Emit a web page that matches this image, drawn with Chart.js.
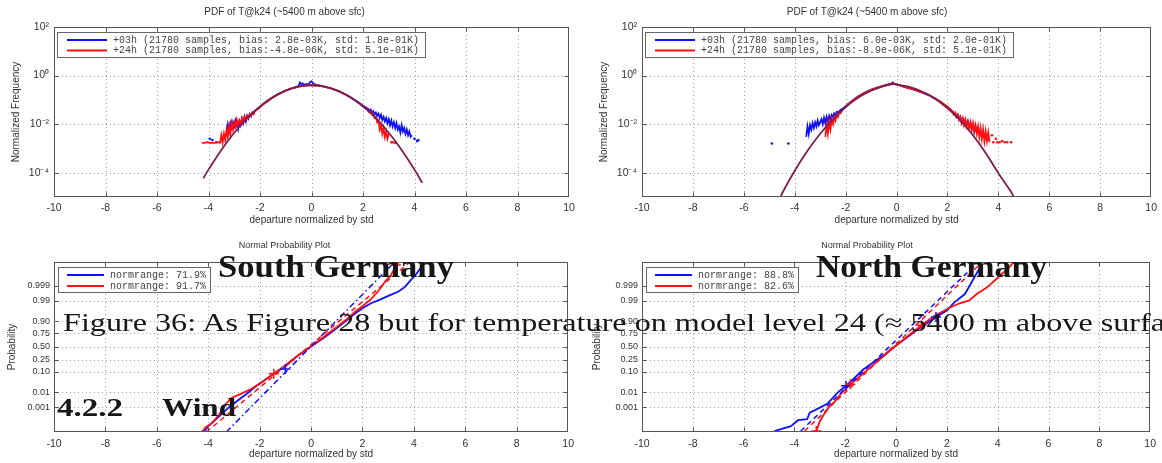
<!DOCTYPE html>
<html><head><meta charset="utf-8">
<script src="https://cdn.jsdelivr.net/npm/chart.js@4.4.0/dist/chart.umd.min.js"></script>
<style>
html,body{margin:0;padding:0;background:#fff;}
#page{position:relative;width:1162px;height:463px;overflow:hidden;background:#fff;}
canvas{position:absolute;}
#overlay{position:absolute;left:0;top:0;pointer-events:none;}
</style></head><body>
<div id="page">
<canvas id="c1" width="580" height="230" style="left:0;top:0;width:580px;height:230px"></canvas>
<canvas id="c2" width="582" height="230" style="left:580px;top:0;width:582px;height:230px"></canvas>
<canvas id="c3" width="580" height="233" style="left:0;top:230px;width:580px;height:233px"></canvas>
<canvas id="c4" width="582" height="233" style="left:580px;top:230px;width:582px;height:233px"></canvas>
<svg id="overlay" width="1162" height="463" xmlns="http://www.w3.org/2000/svg">
<g font-family="'Liberation Serif','DejaVu Serif',serif" fill="#161616">
<text x="218" y="277" font-size="31" font-weight="bold" textLength="236" lengthAdjust="spacingAndGlyphs">South Germany</text>
<text x="816" y="277" font-size="31" font-weight="bold" textLength="231" lengthAdjust="spacingAndGlyphs">North Germany</text>
<text x="63" y="331" font-size="25" textLength="1102" lengthAdjust="spacingAndGlyphs">Figure 36: As Figure 28 but for temperature on model level 24 (≈ 5400 m above surfa</text>
<text x="57" y="416" font-size="25" font-weight="bold" textLength="66" lengthAdjust="spacingAndGlyphs">4.2.2</text>
<text x="162" y="416" font-size="25" font-weight="bold" textLength="74" lengthAdjust="spacingAndGlyphs">Wind</text>
</g></svg>
</div>
<script>
// ---------- tick values / labels ----------
const xTickValues = [-10,-8,-6,-4,-2,0,2,4,6,8,10];
const xGridValues = [-8,-6,-4,-2,0,2,4,6,8];
const pdfTickValues = [1e2,1e0,1e-2,1e-4];
const pdfTickLabels = ['10\u00B2','10\u2070','10\u207B\u00B2','10\u207B\u2074'];
const pdfGridValues = [1e0,1e-2,1e-4];
const probTickValues = [3.09,2.326,1.2816,0.674,0,-0.674,-1.2816,-2.326,-3.09];
const probTickLabels = ['0.999','0.99','0.90','0.75','0.50','0.25','0.10','0.01','0.001'];
const pdfRange = [1e-5, 1e2];
const probRange = [-4.35, 4.3];

// ---------- texts ----------
const pdfTitle = 'PDF of T@k24 (~5400 m above sfc)';
const probTitle = 'Normal Probability Plot';
const xTitle = 'departure normalized by std';
const southPdfLabels = ['+03h (21780 samples, bias: 2.8e-03K, std: 1.8e-01K)','+24h (21780 samples, bias:-4.8e-06K, std: 5.1e-01K)'];
const northPdfLabels = ['+03h (21780 samples, bias: 6.0e-03K, std: 2.0e-01K)','+24h (21780 samples, bias:-8.9e-06K, std: 5.1e-01K)'];
const southProbLabels = ['normrange: 71.9%','normrange: 91.7%'];
const northProbLabels = ['normrange: 88.8%','normrange: 82.6%'];

// ---------- South Germany PDF ----------
const southFit = [[-4.2,5.9e-5],[-4.0,1.34e-4],[-3.5,8.7e-4],[-3.0,4.4e-3],[-2.5,0.0175],[-2.0,0.054],[-1.5,0.13],[-1.0,0.242],[-0.5,0.352],[0.0,0.399],[0.5,0.352],[1.0,0.242],[1.5,0.13],[2.0,0.054],[2.5,0.0175],[3.0,4.4e-3],[3.5,8.7e-4],[4.0,1.34e-4],[4.3,3.8e-5]];
const southPdf03h = [[-3.3,0.004],[-3.25,0.0095],[-3.2,0.005],[-3.15,0.011],[-3.1,0.007],[-3.05,0.012],[-3.0,0.008],[-2.95,0.014],[-2.9,0.009],[-2.85,0.006],[-2.8,0.013],[-2.75,0.009],[-2.7,0.016],[-2.65,0.011],[-2.6,0.02],[-2.55,0.013],[-2.5,0.022],[-2.45,0.017],[-2.4,0.025],[-2.35,0.021],[-2.3,0.03],[-2.25,0.026],[-2.2,0.036],[-2.1,0.042],[-2.0,0.05],[-1.9,0.063],[-1.8,0.075],[-1.7,0.09],[-1.6,0.108],[-1.5,0.125],[-1.4,0.148],[-1.3,0.168],[-1.2,0.19],[-1.1,0.215],[-1.0,0.24],[-0.9,0.262],[-0.8,0.29],[-0.7,0.31],[-0.6,0.34],[-0.5,0.37],[-0.45,0.52],[-0.4,0.45],[-0.35,0.48],[-0.3,0.42],[-0.2,0.44],[-0.1,0.46],[-0.05,0.55],[0.0,0.58],[0.05,0.5],[0.1,0.45],[0.2,0.41],[0.3,0.39],[0.4,0.37],[0.5,0.35],[0.6,0.33],[0.7,0.31],[0.8,0.29],[0.9,0.265],[1.0,0.24],[1.1,0.22],[1.2,0.195],[1.3,0.17],[1.4,0.15],[1.5,0.13],[1.6,0.112],[1.7,0.096],[1.8,0.082],[1.9,0.07],[2.0,0.058],[2.1,0.05],[2.2,0.042],[2.25,0.035],[2.3,0.04],[2.35,0.03],[2.4,0.034],[2.45,0.025],[2.5,0.03],[2.55,0.022],[2.6,0.027],[2.65,0.018],[2.7,0.024],[2.75,0.015],[2.8,0.02],[2.85,0.013],[2.9,0.018],[2.95,0.011],[3.0,0.016],[3.05,0.009],[3.1,0.014],[3.15,0.008],[3.2,0.012],[3.25,0.007],[3.3,0.011],[3.35,0.006],[3.4,0.008],[3.45,0.0045],[3.5,0.009],[3.55,0.005],[3.6,0.007],[3.65,0.004],[3.7,0.006],[3.75,0.0035],[3.8,0.005],[3.85,0.003],[3.9,0.0035]];
const southDots03h = [[-3.95,0.0025],[-3.85,0.0022],[-3.7,0.0018],[4.0,0.0025],[4.1,0.002],[4.15,0.0022]];
const southPdf24h = [[-4.25,0.0017],[-4.15,0.0017],[-4.05,0.0018],[-3.95,0.0017],[-3.85,0.0017],[-3.75,0.0017],[-3.65,0.0018],[-3.55,0.0017],[-3.5,0.0035],[-3.45,0.0018],[-3.4,0.004],[-3.35,0.0022],[-3.3,0.006],[-3.25,0.003],[-3.2,0.008],[-3.15,0.004],[-3.1,0.011],[-3.05,0.006],[-3.0,0.012],[-2.95,0.008],[-2.9,0.015],[-2.85,0.009],[-2.8,0.014],[-2.75,0.011],[-2.7,0.018],[-2.65,0.012],[-2.6,0.02],[-2.55,0.016],[-2.5,0.022],[-2.45,0.018],[-2.4,0.026],[-2.35,0.022],[-2.3,0.029],[-2.25,0.026],[-2.2,0.034],[-2.1,0.04],[-2.0,0.05],[-1.9,0.062],[-1.8,0.075],[-1.7,0.088],[-1.6,0.105],[-1.5,0.125],[-1.4,0.145],[-1.3,0.17],[-1.2,0.19],[-1.1,0.215],[-1.0,0.24],[-0.9,0.265],[-0.8,0.29],[-0.7,0.31],[-0.6,0.33],[-0.5,0.35],[-0.4,0.37],[-0.3,0.38],[-0.2,0.39],[-0.1,0.4],[0.0,0.4],[0.1,0.39],[0.2,0.39],[0.3,0.38],[0.4,0.365],[0.5,0.35],[0.6,0.33],[0.7,0.31],[0.8,0.285],[0.9,0.26],[1.0,0.24],[1.1,0.215],[1.2,0.19],[1.3,0.17],[1.4,0.148],[1.5,0.128],[1.6,0.11],[1.7,0.093],[1.8,0.078],[1.9,0.065],[2.0,0.053],[2.1,0.044],[2.2,0.036],[2.25,0.03],[2.3,0.033],[2.35,0.025],[2.4,0.026],[2.45,0.018],[2.5,0.02],[2.55,0.012],[2.6,0.014],[2.65,0.006],[2.7,0.009],[2.75,0.004],[2.8,0.007],[2.85,0.003],[2.9,0.005],[2.95,0.0025],[3.0,0.004]];
const southDots24h = [[3.1,0.0018],[3.15,0.0018],[3.25,0.0017]];

// ---------- North Germany PDF ----------
const northFit = [[-4.55,1.0e-5],[-4.5,1.4e-5],[-4.0,1.2e-4],[-3.5,8.0e-4],[-3.0,4.0e-3],[-2.5,0.016],[-2.0,0.05],[-1.5,0.125],[-1.0,0.24],[-0.5,0.37],[-0.15,0.45],[0.0,0.42],[0.5,0.34],[1.0,0.22],[1.5,0.115],[2.0,0.045],[2.5,0.0145],[3.0,3.5e-3],[3.5,6.5e-4],[4.0,9.5e-5],[4.5,1.6e-5],[4.6,1.0e-5]];
const northPdf03h = [[-3.55,0.003],[-3.5,0.008],[-3.45,0.004],[-3.4,0.009],[-3.35,0.006],[-3.3,0.011],[-3.25,0.007],[-3.2,0.012],[-3.15,0.008],[-3.1,0.014],[-3.05,0.009],[-3.0,0.012],[-2.95,0.016],[-2.9,0.01],[-2.85,0.018],[-2.8,0.011],[-2.75,0.02],[-2.7,0.013],[-2.65,0.022],[-2.6,0.015],[-2.55,0.024],[-2.5,0.02],[-2.45,0.028],[-2.4,0.024],[-2.35,0.032],[-2.3,0.03],[-2.2,0.038],[-2.1,0.045],[-2.0,0.055],[-1.9,0.068],[-1.8,0.082],[-1.7,0.1],[-1.6,0.118],[-1.5,0.14],[-1.4,0.16],[-1.3,0.185],[-1.2,0.21],[-1.1,0.235],[-1.0,0.26],[-0.9,0.285],[-0.8,0.31],[-0.7,0.335],[-0.6,0.36],[-0.5,0.385],[-0.4,0.41],[-0.3,0.44],[-0.2,0.47],[-0.15,0.52],[-0.1,0.47],[0.0,0.43],[0.1,0.4],[0.2,0.37],[0.3,0.345],[0.4,0.32],[0.5,0.3],[0.6,0.28],[0.7,0.26],[0.8,0.24],[0.9,0.22],[1.0,0.2],[1.1,0.18],[1.2,0.165],[1.3,0.15],[1.4,0.13],[1.5,0.115],[1.6,0.1],[1.7,0.085],[1.8,0.072],[1.9,0.06],[2.0,0.05],[2.1,0.04],[2.2,0.033],[2.25,0.025],[2.3,0.029],[2.35,0.02],[2.4,0.024],[2.45,0.016],[2.5,0.02],[2.55,0.013],[2.6,0.017],[2.65,0.011],[2.7,0.015],[2.75,0.009],[2.8,0.013],[2.85,0.008],[2.9,0.011],[2.95,0.006],[3.0,0.009],[3.05,0.005],[3.1,0.008],[3.15,0.0045],[3.2,0.006],[3.25,0.004],[3.3,0.005]];
const northDots03h = [[-4.9,0.0016],[-4.25,0.0016]];
const northPdf24h = [[-2.8,0.003],[-2.75,0.009],[-2.7,0.004],[-2.65,0.012],[-2.6,0.006],[-2.55,0.015],[-2.5,0.01],[-2.45,0.02],[-2.4,0.014],[-2.35,0.025],[-2.3,0.02],[-2.25,0.03],[-2.2,0.028],[-2.15,0.035],[-2.1,0.04],[-2.0,0.052],[-1.9,0.066],[-1.8,0.08],[-1.7,0.098],[-1.6,0.116],[-1.5,0.138],[-1.4,0.16],[-1.3,0.183],[-1.2,0.208],[-1.1,0.233],[-1.0,0.258],[-0.9,0.283],[-0.8,0.308],[-0.7,0.333],[-0.6,0.358],[-0.5,0.383],[-0.4,0.408],[-0.3,0.435],[-0.2,0.46],[-0.15,0.48],[-0.1,0.46],[0.0,0.43],[0.1,0.4],[0.2,0.372],[0.3,0.348],[0.4,0.322],[0.5,0.3],[0.6,0.28],[0.7,0.258],[0.8,0.238],[0.9,0.218],[1.0,0.21],[1.1,0.19],[1.2,0.17],[1.3,0.152],[1.4,0.133],[1.5,0.117],[1.6,0.101],[1.7,0.087],[1.8,0.074],[1.9,0.062],[2.0,0.052],[2.1,0.042],[2.2,0.034],[2.25,0.026],[2.3,0.03],[2.35,0.02],[2.4,0.025],[2.45,0.015],[2.5,0.02],[2.55,0.011],[2.6,0.017],[2.65,0.009],[2.7,0.015],[2.75,0.008],[2.8,0.013],[2.85,0.007],[2.9,0.012],[2.95,0.006],[3.0,0.011],[3.05,0.005],[3.1,0.009],[3.15,0.004],[3.2,0.008],[3.25,0.003],[3.3,0.007],[3.35,0.0025],[3.4,0.006],[3.45,0.002],[3.5,0.005],[3.55,0.002],[3.6,0.0045],[3.65,0.0018]];
const northDots24h = [[3.75,0.0035],[3.8,0.0018],[3.9,0.0025],[3.95,0.0018],[4.05,0.0018],[4.15,0.002],[4.25,0.0018],[4.35,0.0018],[4.5,0.0018]];

// ---------- South Germany normal probability plot (x, z) ----------
const southProb03h = [[-4.15,-4.35],[-4.0,-4.05],[-3.85,-3.88],[-3.7,-3.7],[-3.5,-3.45],[-3.2,-3.1],[-2.8,-2.7],[-2.5,-2.4],[-2.2,-2.07],[-1.8,-1.7],[-1.45,-1.38],[-1.0,-1.0],[-0.5,-0.45],[0.0,0.0],[0.5,0.45],[0.87,0.8],[1.3,1.25],[1.75,1.72],[2.0,1.95],[2.33,2.2],[2.7,2.4],[3.05,2.6],[3.4,2.8],[3.64,3.02],[3.93,3.45],[4.1,3.7],[4.29,4.05]];
const southProb24h = [[-4.25,-4.35],[-4.1,-4.1],[-3.85,-3.9],[-3.6,-3.5],[-3.3,-2.9],[-3.1,-2.62],[-2.8,-2.45],[-2.33,-2.16],[-1.9,-1.8],[-1.45,-1.38],[-1.0,-0.95],[-0.5,-0.45],[0.0,0.0],[0.5,0.5],[1.0,1.0],[1.4,1.4],[1.75,1.81],[2.0,2.05],[2.33,2.41],[2.6,2.8],[2.91,3.36],[3.1,3.6],[3.27,4.05],[3.42,4.3]];
const southRef03h = [[-3.3,-4.35],[3.25,4.3]];
const southRef24h = [[-4.07,-4.35],[3.85,4.3]];
const southMark03h = [[-1.0,-1.15]];
const southMark24h = [[-1.45,-1.38],[3.3,4.15]];

// ---------- North Germany normal probability plot (x, z) ----------
const northProb03h = [[-4.79,-4.3],[-4.14,-4.05],[-3.86,-3.75],[-3.5,-3.7],[-3.4,-3.37],[-3.21,-3.25],[-2.71,-2.92],[-2.29,-2.33],[-1.97,-2.0],[-1.29,-1.17],[-0.5,-0.45],[0.0,0.05],[1.0,1.0],[1.57,1.5],[2.0,1.83],[2.29,2.25],[2.71,2.67],[3.0,3.33],[3.29,4.0],[3.35,4.25]];
const northProb24h = [[-3.14,-4.3],[-3.0,-3.8],[-2.86,-3.5],[-2.6,-3.0],[-2.43,-2.83],[-2.1,-2.3],[-1.79,-1.92],[-1.0,-1.05],[0.0,0.05],[1.0,1.08],[1.5,1.55],[2.14,2.0],[2.5,2.2],[2.86,2.33],[3.2,2.7],[3.57,3.0],[4.0,3.5],[4.43,4.0],[4.6,4.25]];
const northRef03h = [[-3.75,-4.3],[3.2,4.25]];
const northRef24h = [[-3.6,-4.3],[3.35,4.25]];
const northMark03h = [[-1.97,-2.0],[1.57,1.5]];
const northMark24h = [[-1.8,-1.92],[1.0,1.08],[-3.14,-4.3]];

// ---------- styling ----------
const BLUE = '#1010ff', RED = '#ff1010', FIT = '#7a2050';
const SANS = "'Liberation Sans', Arial, sans-serif";
const MONO = "'Liberation Mono', 'DejaVu Sans Mono', monospace";
const TXT = '#333';

const P = a => a.map(p => ({x: p[0], y: p[1]}));

const gridFramePlugin = {
  id: 'gridFrame',
  beforeDatasetsDraw(chart, args, o) {
    const {ctx, chartArea: a, scales} = chart;
    ctx.save();
    ctx.strokeStyle = '#a0a0a0'; ctx.lineWidth = 1; ctx.setLineDash([1, 3]);
    o.xGrid.forEach(v => {
      const px = Math.round(scales.x.getPixelForValue(v)) + 0.5;
      ctx.beginPath(); ctx.moveTo(px, a.top); ctx.lineTo(px, a.bottom); ctx.stroke();
    });
    o.yGrid.forEach(v => {
      const py = Math.round(scales.y.getPixelForValue(v)) + 0.5;
      ctx.beginPath(); ctx.moveTo(a.left, py); ctx.lineTo(a.right, py); ctx.stroke();
    });
    ctx.restore();
  },
  afterDatasetsDraw(chart, args, o) {
    const {ctx, chartArea: a, scales} = chart;
    ctx.save();
    ctx.setLineDash([]); ctx.strokeStyle = '#555'; ctx.lineWidth = 1;
    const L = Math.round(a.left) + 0.5, T = Math.round(a.top) + 0.5, R = Math.round(a.right) - 0.5, B = Math.round(a.bottom) - 0.5;
    ctx.strokeRect(L, T, R - L, B - T);
    ctx.beginPath();
    o.xGrid.forEach(v => {
      const px = Math.round(scales.x.getPixelForValue(v)) + 0.5;
      ctx.moveTo(px, T); ctx.lineTo(px, T + 4); ctx.moveTo(px, B); ctx.lineTo(px, B - 4);
    });
    o.yGrid.forEach(v => {
      const py = Math.round(scales.y.getPixelForValue(v)) + 0.5;
      ctx.moveTo(L, py); ctx.lineTo(L + 4, py); ctx.moveTo(R, py); ctx.lineTo(R - 4, py);
    });
    ctx.stroke();
    ctx.restore();
  }
};

const boxLegendPlugin = {
  id: 'boxLegend',
  afterDraw(chart, args, o) {
    const {ctx, chartArea: a} = chart;
    const x0 = Math.round(a.left + o.dx), y0 = Math.round(a.top + o.dy);
    ctx.save();
    ctx.setLineDash([]);
    ctx.fillStyle = '#fff'; ctx.fillRect(x0, y0, o.w, o.h);
    ctx.strokeStyle = '#666'; ctx.lineWidth = 1; ctx.strokeRect(x0 + 0.5, y0 + 0.5, o.w, o.h);
    o.items.forEach((it, i) => {
      const y = y0 + o.row0 + i * o.rowH;
      ctx.strokeStyle = it.color; ctx.lineWidth = 1.8;
      ctx.beginPath(); ctx.moveTo(x0 + o.lx0, y); ctx.lineTo(x0 + o.lx1, y); ctx.stroke();
      ctx.fillStyle = '#444'; ctx.font = o.font; ctx.textBaseline = 'middle'; ctx.textAlign = 'left';
      ctx.fillText(it.label, x0 + o.tx, y);
    });
    ctx.restore();
  }
};

function lineDs(data, color, width, extra) {
  return Object.assign({data: P(data), showLine: true, borderColor: color, backgroundColor: color, borderWidth: width, pointRadius: 0, tension: 0}, extra || {});
}
function dotDs(data, color) {
  return {data: P(data), showLine: false, borderColor: color, backgroundColor: color, pointRadius: 1.3, pointBorderWidth: 0};
}
function markDs(data, color) {
  return {data: P(data), showLine: false, pointStyle: 'cross', pointRadius: 5, borderColor: color, backgroundColor: color, pointBorderWidth: 1.5};
}

function makeChart(id, o) {
  return new Chart(document.getElementById(id), {
    type: 'scatter',
    data: {datasets: o.datasets},
    options: {
      responsive: false, animation: false, devicePixelRatio: 1, events: [],
      layout: {padding: {left: 0, right: o.padRight, top: 0, bottom: 0}},
      plugins: {
        legend: {display: false}, tooltip: {enabled: false},
        title: {display: true, text: o.title, color: TXT, font: {family: SANS, size: o.titleSize, weight: 'normal', lineHeight: 1.2}, padding: o.titlePad},
        gridFrame: {xGrid: xGridValues, yGrid: o.yGrid},
        boxLegend: o.legend
      },
      scales: {
        x: {
          type: 'linear', min: -10, max: 10,
          afterFit: s => { s.height = o.xAxisH; },
          afterBuildTicks: s => { s.ticks = xTickValues.map(v => ({value: v})); },
          ticks: {autoSkip: false, maxRotation: 0, padding: o.xTickPad, color: TXT, font: {family: SANS, size: 10.5}, callback: v => String(v)},
          grid: {display: false, drawTicks: false}, border: {display: false},
          title: {display: true, text: xTitle, color: TXT, font: {family: SANS, size: 10, lineHeight: 1.2}, padding: {top: 0, bottom: o.xTitlePad}}
        },
        y: Object.assign({
          afterFit: s => { s.width = o.yAxisW; },
          grid: {display: false, drawTicks: false}, border: {display: false},
          title: {display: true, text: o.yTitle, color: TXT, font: {family: SANS, size: 10, lineHeight: 1.2}, padding: {top: o.yTitlePad, bottom: 0}}
        }, o.yScale)
      }
    },
    plugins: [gridFramePlugin, boxLegendPlugin]
  });
}

function pdfY() {
  return {
    type: 'logarithmic', min: pdfRange[0], max: pdfRange[1],
    afterBuildTicks: s => { s.ticks = pdfTickValues.map(v => ({value: v})); },
    ticks: {autoSkip: false, padding: 5, color: TXT, font: {family: SANS, size: 10.5}, callback: (v, i) => pdfTickLabels[i]}
  };
}
function probY() {
  return {
    type: 'linear', min: probRange[0], max: probRange[1],
    afterBuildTicks: s => { s.ticks = probTickValues.map(v => ({value: v})); },
    ticks: {autoSkip: false, padding: 4, color: TXT, font: {family: SANS, size: 9}, callback: (v, i) => probTickLabels[i]}
  };
}

const pdfLegendBase = {dx: 3, dy: 5, w: 368, h: 25, row0: 8, rowH: 10.5, lx0: 10, lx1: 50, tx: 56, font: '10px ' + MONO};
const probLegendBase = {dx: 4, dy: 5, w: 152, h: 25, row0: 8, rowH: 11, lx0: 9, lx1: 46, tx: 52, font: '10px ' + MONO};

makeChart('c1', {
  title: pdfTitle, titleSize: 10, titlePad: {top: 6, bottom: 9}, padRight: 11, yAxisW: 54, xAxisH: 33, xTickPad: 5, xTitlePad: 4,
  yTitle: 'Normalized Frequency', yTitlePad: 10, yScale: pdfY(), yGrid: pdfGridValues,
  legend: Object.assign({items: [{label: southPdfLabels[0], color: BLUE}, {label: southPdfLabels[1], color: RED}]}, pdfLegendBase),
  datasets: [
    lineDs(southFit, FIT, 1.8, {tension: 0.4}),
    lineDs(southPdf24h, RED, 1.8),
    lineDs(southPdf03h, BLUE, 1.8),
    dotDs(southDots24h, RED),
    dotDs(southDots03h, BLUE)
  ]
});

makeChart('c2', {
  title: pdfTitle, titleSize: 10, titlePad: {top: 6, bottom: 9}, padRight: 8, yAxisW: 62, xAxisH: 33, xTickPad: 5, xTitlePad: 4,
  yTitle: 'Normalized Frequency', yTitlePad: 18, yScale: pdfY(), yGrid: pdfGridValues,
  legend: Object.assign({items: [{label: northPdfLabels[0], color: BLUE}, {label: northPdfLabels[1], color: RED}]}, pdfLegendBase),
  datasets: [
    lineDs(northFit, FIT, 1.8, {tension: 0.4}),
    lineDs(northPdf24h, RED, 1.8),
    lineDs(northPdf03h, BLUE, 1.8),
    dotDs(northDots24h, RED),
    dotDs(northDots03h, BLUE)
  ]
});

makeChart('c3', {
  title: probTitle, titleSize: 9, titlePad: {top: 10.6, bottom: 10.6}, padRight: 11, yAxisW: 54, xAxisH: 31, xTickPad: 6, xTitlePad: 3,
  yTitle: 'Probability', yTitlePad: 6, yScale: probY(), yGrid: probTickValues,
  legend: Object.assign({items: [{label: southProbLabels[0], color: BLUE}, {label: southProbLabels[1], color: RED}]}, probLegendBase),
  datasets: [
    markDs(southMark24h, RED),
    markDs(southMark03h, BLUE),
    lineDs(southRef24h, RED, 1.5, {borderDash: [5, 4]}),
    lineDs(southRef03h, BLUE, 1.5, {borderDash: [6, 3, 1.5, 3]}),
    lineDs(southProb24h, RED, 1.8),
    lineDs(southProb03h, BLUE, 1.8)
  ]
});

makeChart('c4', {
  title: probTitle, titleSize: 9, titlePad: {top: 10.6, bottom: 10.6}, padRight: 8, yAxisW: 62, xAxisH: 31, xTickPad: 6, xTitlePad: 3,
  yTitle: 'Probability', yTitlePad: 11, yScale: probY(), yGrid: probTickValues,
  legend: Object.assign({items: [{label: northProbLabels[0], color: BLUE}, {label: northProbLabels[1], color: RED}]}, probLegendBase),
  datasets: [
    markDs(northMark24h, RED),
    markDs(northMark03h, BLUE),
    lineDs(northRef24h, RED, 1.5, {borderDash: [5, 4]}),
    lineDs(northRef03h, BLUE, 1.5, {borderDash: [5, 4]}),
    lineDs(northProb24h, RED, 1.8),
    lineDs(northProb03h, BLUE, 1.8)
  ]
});
</script>
</body></html>
